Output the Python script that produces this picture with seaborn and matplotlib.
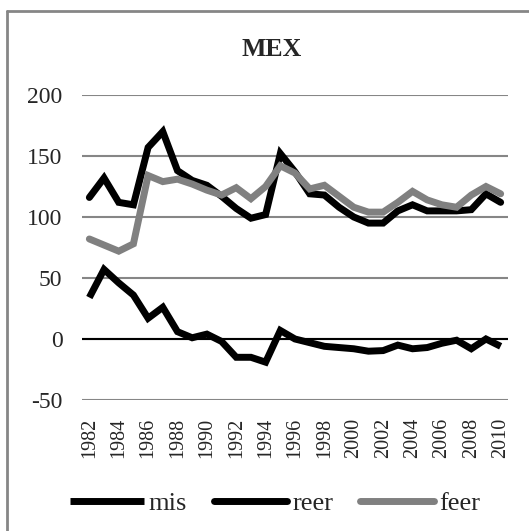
import seaborn as sns
import matplotlib.pyplot as plt
import pandas as pd
from matplotlib.lines import Line2D

years = list(range(1982, 2011))
mis = [34, 57, 46, 36, 17, 26, 6, 1, 4, -2, -15, -15, -19,
       7, 0, -3, -6, -7, -8, -10, -9.5, -5, -8, -7, -3.5, -1, -8, 0, -6]
reer = [116, 132, 112, 110, 157, 170, 138, 130, 126, 117, 107, 99, 102,
        152, 137, 119, 118, 108, 100, 95, 95, 105, 110, 105, 105, 105, 106, 119, 112]
feer = [82, 77, 72, 78, 134, 129, 131, 127, 122, 118, 124, 115, 125,
        142, 136, 123, 126, 117, 108, 104, 104, 112, 121, 114, 110, 108, 118, 125, 119]
series_names = ['mis', 'reer', 'feer']
series_colors = ['black', 'black', '#808080']
y_ticks = [-50, 0, 50, 100, 150, 200]
x_ticks = list(range(1982, 2011, 2))

df = pd.DataFrame({'year': years, 'mis': mis, 'reer': reer, 'feer': feer})
long_df = df.melt(id_vars='year', var_name='series', value_name='value')

sns.set_style('white')
plt.rcParams['font.family'] = ['Liberation Serif', 'DejaVu Serif']

fig = plt.figure(figsize=(5.29, 5.31), dpi=100)
ax = fig.add_axes([82 / 529, 1 - 400 / 531, 426 / 529, 305 / 531])

sns.lineplot(data=long_df, x='year', y='value', hue='series',
             hue_order=series_names, palette=dict(zip(series_names, series_colors)),
             linewidth=5, ax=ax, legend=False, zorder=3)

caps = ['butt', 'round', 'round']
for ln, cap in zip(ax.get_lines(), caps):
    ln.set_solid_capstyle(cap)
    ln.set_solid_joinstyle('miter')

ax.set_xlim(1981.5, 2010.5)
ax.set_ylim(-50, 200)
ax.set_yticks(y_ticks)
ax.set_yticklabels([str(v) for v in y_ticks], fontsize=17)
ax.set_xticks(x_ticks)
ax.set_xticklabels([str(v) for v in x_ticks], rotation=90, fontsize=14.5)
ax.tick_params(axis='both', length=0)
ax.tick_params(axis='y', pad=14)
ax.tick_params(axis='x', pad=13)
ax.set_xlabel('')
ax.set_ylabel('')

ax.grid(axis='y', color='#868686', linewidth=1.5)
ax.grid(axis='x', visible=False)
ax.axhline(0, color='black', linewidth=1.5, zorder=2)
for sp in ax.spines.values():
    sp.set_visible(False)

fig.text(272 / 529, 1 - 50 / 531, 'MEX', fontsize=18.5, fontweight='bold',
         ha='center', va='center')

# chart area border: only left and top edges are inside the picture
fig.add_artist(Line2D([7 / 529, 7 / 529], [0, 1 - 11 / 531], transform=fig.transFigure,
                      color='#868686', linewidth=2))
fig.add_artist(Line2D([7 / 529, 1], [1 - 11 / 531, 1 - 11 / 531], transform=fig.transFigure,
                      color='#868686', linewidth=2))

handles = [Line2D([], [], color=c, linewidth=5, solid_capstyle=cap)
           for c, cap in zip(series_colors, caps)]
fig.legend(handles, series_names, loc='center', bbox_to_anchor=(275 / 529, 1 - 503 / 531),
           ncol=3, frameon=False, fontsize=19, handlelength=2.8,
           handletextpad=0.2, columnspacing=1.0, borderaxespad=0)

fig.savefig('out.png', dpi=100)
